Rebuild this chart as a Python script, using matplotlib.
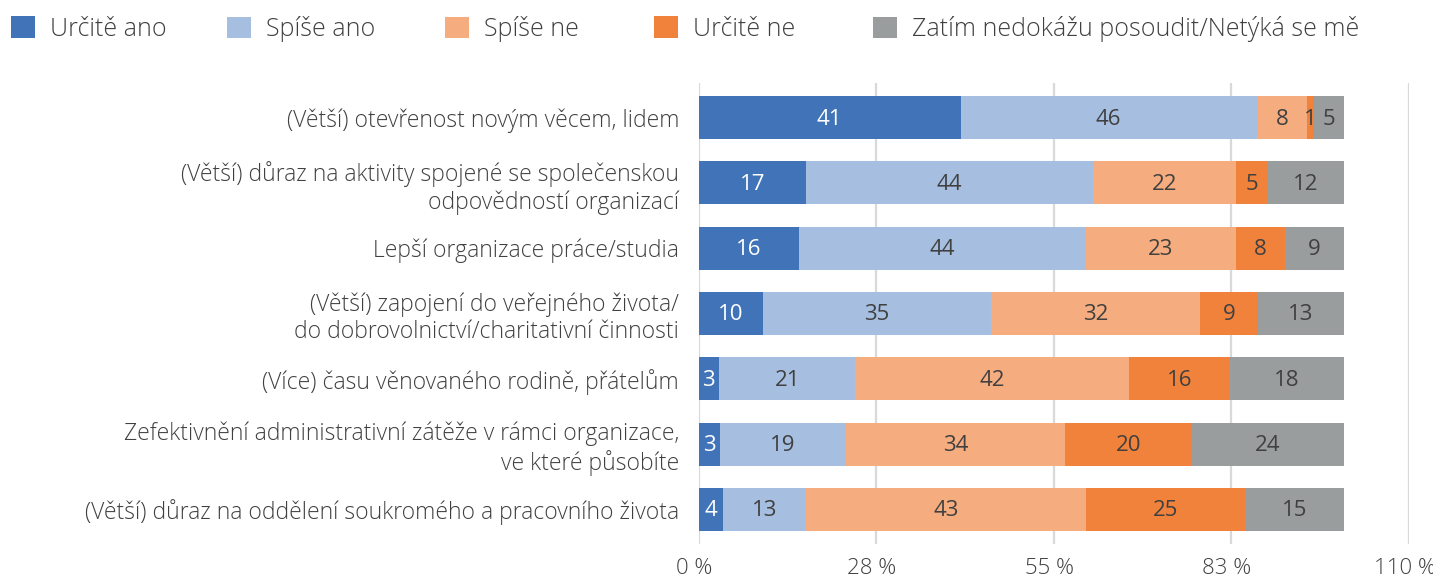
import matplotlib
matplotlib.use("Agg")
import matplotlib.pyplot as plt
from matplotlib.patches import Patch
from matplotlib.transforms import ScaledTranslation

plt.rcParams['font.family'] = ['Open Sans', 'DejaVu Sans']
plt.rcParams['font.weight'] = 'light'

categories = [
    "(Větší) otevřenost novým věcem, lidem",
    "(Větší) důraz na aktivity spojené se společenskou\nodpovědností organizací",
    "Lepší organizace práce/studia",
    "(Větší) zapojení do veřejného života/\ndo dobrovolnictví/charitativní činnosti",
    "(Více) času věnovaného rodině, přátelům",
    "Zefektivnění administrativní zátěže v rámci organizace,\nve které působíte",
    "(Větší) důraz na oddělení soukromého a pracovního života",
]
series_names = ["Určitě ano", "Spíše ano", "Spíše ne", "Určitě ne",
                "Zatím nedokážu posoudit/Netýká se mě"]
urcite_ano = [40.6, 16.7, 15.6, 10.0, 3.2, 3.4, 3.8]
spise_ano = [45.9, 44.4, 44.4, 35.3, 21.1, 19.4, 12.9]
spise_ne = [7.8, 22.2, 23.3, 32.4, 42.4, 34.0, 43.3]
urcite_ne = [1.1, 4.9, 7.6, 9.0, 15.7, 19.6, 24.7]
nevim = [4.6, 11.8, 9.1, 13.3, 17.6, 23.6, 15.3]
tick_values = [0, 27.5, 55, 82.5, 110]
tick_labels = ["0 %", "28 %", "55 %", "83 %", "110 %"]

series = [urcite_ano, spise_ano, spise_ne, urcite_ne, nevim]
colors = ["#4173B8", "#A6BEE0", "#F5AC7E", "#F1823B", "#9A9D9E"]
label_colors = ["white", "#404040", "#404040", "#404040", "#404040"]
txt = "#404040"

W, H = 1433, 579
fig = plt.figure(figsize=(W / 100, H / 100), dpi=100)
ax = fig.add_axes([698.5 / W, 35 / H, 710 / W, 461 / H])

y = list(range(len(categories)))
left = [0.0] * len(categories)
down = ScaledTranslation(0, -1.5 / 100, fig.dpi_scale_trans)
for vals, col, lc in zip(series, colors, label_colors):
    bars = ax.barh(y, vals, left=left, height=0.66, color=col, zorder=3)
    for b, v in zip(bars, vals):
        ax.text(b.get_x() + b.get_width() / 2, b.get_y() + b.get_height() / 2,
                f"{v:.0f}", ha="center", va="center", color=lc,
                fontsize=16, fontweight="normal", zorder=4,
                transform=ax.transData + down)
    left = [l + v for l, v in zip(left, vals)]

ax.set_xlim(0, 110)
ax.set_ylim(6.53, -0.53)
ax.set_xticks(tick_values)
ax.set_xticklabels(tick_labels, fontsize=16, color=txt)
ax.set_yticks(y)
ax.set_yticklabels(categories, fontsize=16.5, color=txt, linespacing=1.2)
ax.tick_params(axis="both", length=0)
ax.tick_params(axis="y", pad=14)
ax.tick_params(axis="x", pad=10)
ax.grid(axis="x", color="#D9D9D9", linewidth=1.6, zorder=0)
for s in ax.spines.values():
    s.set_visible(False)

shift = ScaledTranslation(-4 / 100, 0, fig.dpi_scale_trans)
for lab in ax.get_xticklabels():
    lab.set_transform(lab.get_transform() + shift)

legend_x = [11, 227, 445, 654, 873]
for name, col, lx in zip(series_names, colors, legend_x):
    fig.legend([Patch(facecolor=col, edgecolor="none")], [name],
               loc="center left", bbox_to_anchor=(lx / W, 1 - 29 / H),
               frameon=False, fontsize=18, labelcolor=txt,
               borderpad=0, borderaxespad=0,
               handlelength=0.96, handleheight=0.96, handletextpad=0.6)

fig.savefig("out.png", dpi=100)
